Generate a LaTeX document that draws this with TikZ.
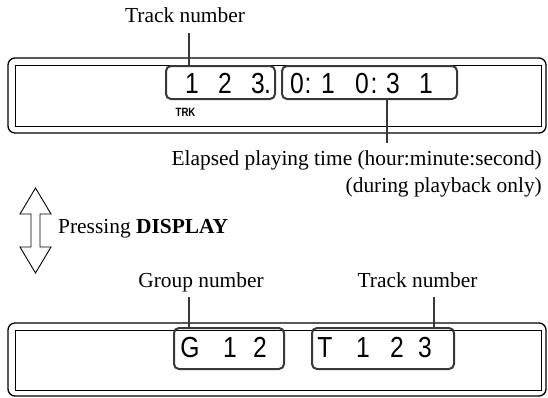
\documentclass[tikz,border=0pt]{standalone}
\usepackage{fontspec}
\setmainfont{Liberation Serif}
\newfontfamily\lcdfont{Liberation Sans}
\newcommand\lcdsq[1]{\scalebox{0.85}[1]{#1}}
\begin{document}
\begin{tikzpicture}[x=1pt,y=-1pt,
  frameout/.style={draw=black,line width=1.3pt,rounded corners=7pt,inner sep=0pt,outer sep=0pt},
  framein/.style={draw=black,line width=0.9pt,inner sep=0pt,outer sep=0pt},
  segbox/.style={draw=black!78,line width=2pt,rounded corners=5pt,inner sep=0pt,outer sep=0pt,fill=none},
  lead/.style={draw=black!78,line width=2.2pt},
  lbl/.style={font=\fontsize{21.4}{25}\selectfont,inner sep=0pt},
  dig/.style={font=\lcdfont\fontsize{29}{29}\selectfont,inner sep=0pt,anchor=base},
  dblarrow/.style={draw=black,line width=0.9pt,fill=white}]
\useasboundingbox (0,0) rectangle (548,397);

% ---------- top display ----------
\node[frameout,minimum width=538pt,minimum height=75pt] (d1out) at (277,95.5) {};
\node[framein,minimum width=526pt,minimum height=61pt] (d1in) at (278,95.5) {};
\node[segbox,minimum width=109pt,minimum height=33pt] (b1) at (220.5,82.5) {};
\node[segbox,minimum width=175pt,minimum height=33pt] (b2) at (369.5,82.5) {};

\node[dig] (t1a) at (192,93) {\lcdsq{1}};
\node[dig] (t1b) at (225,93) {\lcdsq{2}};
\node[dig] (t1c) at (258,93) {\lcdsq{3}};
\node[dig] (t1d) at (267.5,93) {\lcdsq{.}};

\node[dig] (t2a) at (297,93) {\lcdsq{0}};
\node[dig] (t2b) at (308,93) {\lcdsq{:}};
\node[dig] (t2c) at (328,93) {\lcdsq{1}};
\node[dig] (t2d) at (362,93) {\lcdsq{0}};
\node[dig] (t2e) at (374,93) {\lcdsq{:}};
\node[dig] (t2f) at (393,93) {\lcdsq{3}};
\node[dig] (t2g) at (426,93) {\lcdsq{1}};

\node[font=\lcdfont\bfseries\fontsize{12}{12}\selectfont,inner sep=0pt] (trk) at (185.5,112) {\scalebox{0.8}[1]{TRK}};

\node[lbl,anchor=base] (ltrack1) at (185,22) {Track number};
\coordinate (ltrack1end) at (189,33);
\draw[lead] (ltrack1end) -- (ltrack1end |- b1.north);

\node[lbl,anchor=base east] (lelap1) at (542,165) {Elapsed playing time (hour:minute:second)};
\node[lbl,anchor=base east] (lelap2) at (542,192) {(during playback only)};
\coordinate (lelapend) at (387,143);
\draw[lead] (lelapend) -- (lelapend |- b2.south);

% ---------- double arrow ----------
\draw[dblarrow] (35.5,188) -- (51,214) -- (40,214) -- (40,247) -- (51,247)
  -- (35.5,273) -- (20,247) -- (31,247) -- (31,214) -- (20,214) -- cycle;
\node[lbl,anchor=base west] (lpress) at (58,233) {Pressing \textbf{DISPLAY}};

% ---------- bottom display ----------
\node[frameout,minimum width=538pt,minimum height=73pt] (d2out) at (277,359.5) {};
\node[framein,minimum width=526pt,minimum height=60pt] (d2in) at (278,360) {};
\node[segbox,minimum width=110pt,minimum height=41pt] (b3) at (229,348.5) {};
\node[segbox,minimum width=142pt,minimum height=41pt] (b4) at (383,348.5) {};

\node[dig] (g1) at (190,357) {\lcdsq{G}};
\node[dig] (g2) at (230,357) {\lcdsq{1}};
\node[dig] (g3) at (260,357) {\lcdsq{2}};

\node[dig] (h1) at (325,357) {\lcdsq{T}};
\node[dig] (h2) at (363,357) {\lcdsq{1}};
\node[dig] (h3) at (397,357) {\lcdsq{2}};
\node[dig] (h4) at (425,357) {\lcdsq{3}};

\node[lbl,anchor=base] (lgroup) at (201,287) {Group number};
\coordinate (lgroupend) at (189,297);
\draw[lead] (lgroupend) -- (lgroupend |- b3.north);

\node[lbl,anchor=base] (ltrack2) at (417.5,287) {Track number};
\coordinate (ltrack2end) at (434,297);
\draw[lead] (ltrack2end) -- (ltrack2end |- b4.north);
\end{tikzpicture}
\end{document}
